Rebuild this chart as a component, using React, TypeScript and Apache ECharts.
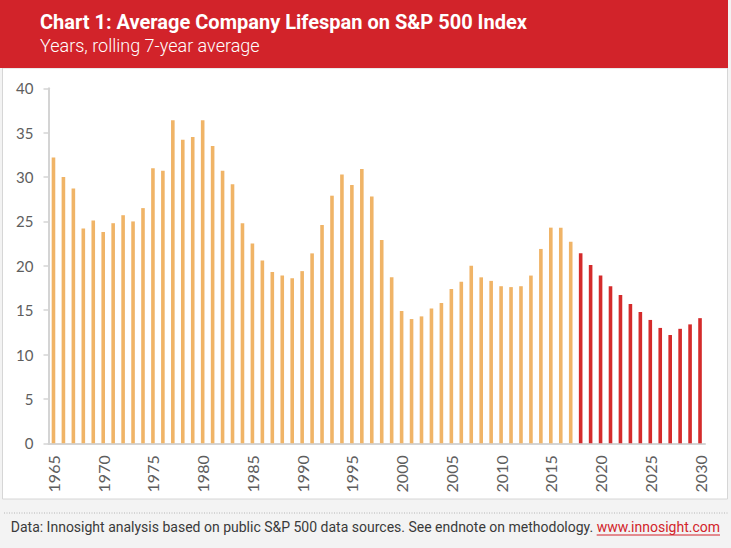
import React, { useEffect, useRef } from "react";
import * as echarts from "echarts";

const years: string[] = [
  "1965","1966","1967","1968","1969","1970","1971","1972","1973","1974",
  "1975","1976","1977","1978","1979","1980","1981","1982","1983","1984",
  "1985","1986","1987","1988","1989","1990","1991","1992","1993","1994",
  "1995","1996","1997","1998","1999","2000","2001","2002","2003","2004",
  "2005","2006","2007","2008","2009","2010","2011","2012","2013","2014",
  "2015","2016","2017","2018","2019","2020","2021","2022","2023","2024",
  "2025","2026","2027","2028","2029","2030",
];

// 1965-2017 historical rolling average
const historical: number[] = [
  32.2, 30.0, 28.7, 24.2, 25.1, 23.8, 24.8, 25.7, 25.0, 26.5,
  31.0, 30.7, 36.4, 34.2, 34.5, 36.4, 33.5, 30.7, 29.2, 24.8,
  22.5, 20.6, 19.3, 18.9, 18.6, 19.4, 21.4, 24.6, 27.9, 30.3,
  29.1, 30.9, 27.8, 22.9, 18.7, 14.9, 14.0, 14.3, 15.2, 15.8,
  17.4, 18.2, 20.0, 18.7, 18.3, 17.7, 17.6, 17.7, 18.9, 21.9,
  24.3, 24.3, 22.7,
];

// 2018-2030 forecast
const forecast: number[] = [
  21.4, 20.1, 18.9, 17.7, 16.7, 15.7, 14.8, 13.9, 13.0, 12.2, 12.9, 13.4, 14.1,
];

const yTicks: number[] = [0, 5, 10, 15, 20, 25, 30, 35, 40];

const TITLE = "Chart 1: Average Company Lifespan on S&P 500 Index";
const SUBTITLE = "Years, rolling 7-year average";
const FOOT = "Data: Innosight analysis based on public S&P 500 data sources. See endnote on methodology. ";
const LINK = "www.innosight.com";

const NARROW = "'Liberation Sans Narrow', 'Roboto', sans-serif";

export default function App() {
  const ref = useRef<HTMLDivElement | null>(null);

  useEffect(() => {
    if (!ref.current) return;
    const chart = echarts.init(ref.current, null, { renderer: "svg" });

    const canvas = document.createElement("canvas");
    const ctx = canvas.getContext("2d")!;
    ctx.font = `14px ${NARROW}`;
    const linkW = ctx.measureText(LINK).width;
    const linkRight = 720;
    const linkLeft = linkRight - linkW;

    const histData = historical.concat(forecast.map(() => null as any));
    const foreData = historical.map(() => null as any).concat(forecast);

    chart.setOption({
      animation: false,
      backgroundColor: "#f3f3f3",
      graphic: [
        {
          type: "rect",
          z: -10,
          shape: { x: 2.5, y: 68, width: 725, height: 431 },
          style: { fill: "#ffffff", stroke: "#d6d6d6", lineWidth: 1 },
          silent: true,
        },
        {
          type: "rect",
          z: -9,
          shape: { x: 0, y: 0, width: 728, height: 68 },
          style: { fill: "#d2232a" },
          silent: true,
        },
        {
          type: "text",
          x: 40,
          y: 22,
          style: {
            text: TITLE,
            fill: "#ffffff",
            font: `bold 20px ${NARROW}`,
            verticalAlign: "middle",
          },
        },
        {
          type: "text",
          x: 40,
          y: 45,
          style: {
            text: SUBTITLE,
            fill: "#ffffff",
            font: `300 18px ${NARROW}`,
            verticalAlign: "middle",
          },
        },
        {
          type: "line",
          shape: { x1: 4, y1: 513, x2: 728, y2: 513 },
          style: { stroke: "#b5b5b5", lineWidth: 1, lineDash: [1, 1.5] },
        },
        {
          type: "text",
          x: linkLeft,
          y: 527,
          style: {
            text: FOOT,
            fill: "#3a3a3a",
            font: `14px ${NARROW}`,
            align: "right",
            verticalAlign: "middle",
          },
        },
        {
          type: "text",
          x: linkLeft,
          y: 527,
          style: {
            text: LINK,
            fill: "#d2232a",
            font: `14px ${NARROW}`,
            align: "left",
            verticalAlign: "middle",
          },
        },
        {
          type: "line",
          shape: { x1: linkLeft, y1: 535, x2: linkRight, y2: 535 },
          style: { stroke: "#d2232a", lineWidth: 1 },
        },
      ],
      grid: {
        left: 48.5,
        right: 26,
        top: 88.3,
        bottom: 104.7,
        containLabel: false,
      },
      xAxis: {
        type: "category",
        data: years,
        boundaryGap: true,
        axisLine: { show: true, lineStyle: { color: "#d4d4d4", width: 2 } },
        axisTick: { show: false },
        axisLabel: {
          rotate: 90,
          interval: 4,
          margin: 12,
          color: "#5e5e5e",
          fontSize: 16,
          fontFamily: "Lato, sans-serif",
        },
        splitLine: { show: false },
      },
      yAxis: {
        type: "value",
        min: yTicks[0],
        max: yTicks[yTicks.length - 1],
        interval: 5,
        axisLine: { show: true, lineStyle: { color: "#d4d4d4", width: 2 } },
        axisTick: { show: true, length: 5, lineStyle: { color: "#d4d4d4", width: 1.5 } },
        axisLabel: {
          margin: 15,
          color: "#5e5e5e",
          fontSize: 15,
          fontFamily: "Lato, sans-serif",
        },
        splitLine: { show: false },
      },
      series: [
        {
          type: "bar",
          name: "Historical",
          data: histData,
          barWidth: 3.6,
          barGap: "-100%",
          itemStyle: { color: "#f0b467" },
        },
        {
          type: "bar",
          name: "Forecast",
          data: foreData,
          barWidth: 3.6,
          barGap: "-100%",
          itemStyle: { color: "#d42b2b" },
        },
      ],
    });

    return () => chart.dispose();
  }, []);

  return (
    <div
      ref={ref}
      style={{ position: "fixed", left: 0, top: 0, width: 731, height: 548 }}
    />
  );
}
